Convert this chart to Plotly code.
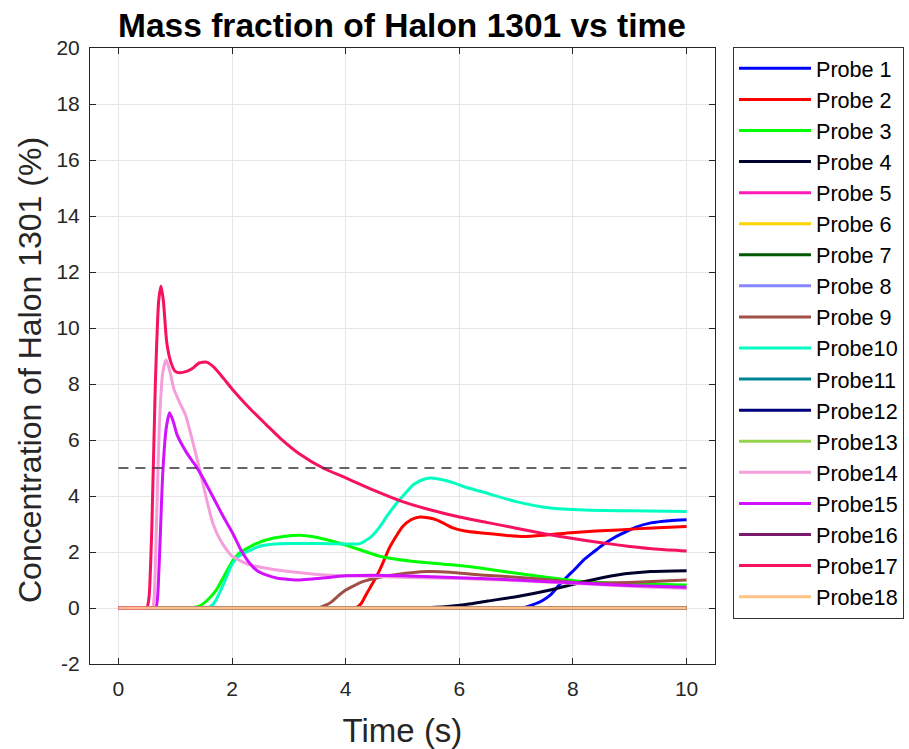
import plotly.graph_objects as go

names = ["Probe 1", "Probe 2", "Probe 3", "Probe 4", "Probe 5", "Probe 6", "Probe 7", "Probe 8", "Probe 9",
         "Probe10", "Probe11", "Probe12", "Probe13", "Probe14", "Probe15", "Probe16", "Probe17", "Probe18"]
colors = ["#0000FF", "#FF0000", "#00FF00", "#00002C", "#FF1AB9", "#FFD300", "#005800", "#8484FF", "#9E4F46",
          "#00FFC1", "#008495", "#00007B", "#95D34F", "#F69EDC", "#D311FF", "#7B1A6A", "#F61261", "#FFC184"]

t1 = [0, 6.9, 7.05, 7.15, 7.3, 7.45, 7.6, 7.75, 7.9, 8.05, 8.19, 8.35, 8.48, 8.7, 8.89, 9.1, 9.37, 9.7, 10]
v1 = [0, 0, 0, 0.02, 0.12, 0.25, 0.46, 0.8, 1.12, 1.42, 1.72, 1.98, 2.19, 2.48, 2.68, 2.88, 3.04, 3.12, 3.15]

t2 = [0, 4.0, 4.12, 4.2, 4.27, 4.37, 4.48, 4.6, 4.78, 4.9, 5.0, 5.15, 5.31, 5.45, 5.6, 5.75, 5.9, 6.1, 6.4, 6.8,
      7.13, 7.5, 7.9, 8.4, 8.8, 9.4, 10]
v2 = [0, 0, 0, 0.03, 0.15, 0.52, 0.9, 1.36, 2.19, 2.6, 2.9, 3.15, 3.25, 3.22, 3.15, 3.0, 2.85, 2.75, 2.68, 2.6,
      2.55, 2.6, 2.68, 2.75, 2.79, 2.86, 2.91]

t3 = [0, 1.1, 1.25, 1.35, 1.45, 1.6, 1.72, 1.85, 2.0, 2.15, 2.3, 2.45, 2.6, 2.9, 3.2, 3.5, 4.0, 4.6, 5.2, 5.8,
      6.4, 7.0, 7.6, 8.2, 9.0, 10]
v3 = [0, 0, 0, 0.03, 0.1, 0.35, 0.64, 1.1, 1.65, 2.0, 2.17, 2.32, 2.43, 2.55, 2.6, 2.52, 2.25, 1.85, 1.66, 1.55,
      1.42, 1.24, 1.08, 0.94, 0.87, 0.82]

t4 = [0, 5.0, 5.3, 5.8, 6.2, 6.5, 7.0, 7.6, 8.19, 8.78, 9.37, 10]
v4 = [0, 0, 0, 0.05, 0.15, 0.25, 0.4, 0.64, 0.94, 1.18, 1.3, 1.33]

t9 = [0, 3.3, 3.45, 3.55, 3.65, 3.75, 3.85, 4.0, 4.15, 4.3, 4.6, 4.9, 5.43, 5.84, 6.37, 7.0, 7.6, 8.19, 8.78,
      9.4, 10]
v9 = [0, 0, 0, 0.02, 0.1, 0.22, 0.4, 0.64, 0.8, 0.94, 1.1, 1.2, 1.3, 1.28, 1.18, 1.1, 1.0, 0.89, 0.9,
      0.95, 1.0]

t10 = [0, 1.45, 1.52, 1.6, 1.66, 1.72, 1.85, 2.01, 2.15, 2.31, 2.45, 2.6, 3.0, 3.5, 4.0, 4.25, 4.45, 4.6, 4.75,
       4.9, 5.05, 5.19, 5.35, 5.5, 5.7, 5.9, 6.1, 6.4, 7.0, 7.6, 8.2, 9.0, 10]
v10 = [0, 0, 0, 0.03, 0.12, 0.29, 0.85, 1.6, 1.9, 2.05, 2.18, 2.25, 2.3, 2.3, 2.29, 2.3, 2.55, 2.9, 3.35,
       3.75, 4.1, 4.4, 4.58, 4.64, 4.58, 4.47, 4.32, 4.15, 3.8, 3.57, 3.5, 3.47, 3.45]

t14 = [0, 0.56, 0.6, 0.63, 0.67, 0.72, 0.78, 0.84, 0.9, 0.98, 1.08, 1.18, 1.25, 1.35, 1.43, 1.55, 1.66, 1.8, 2.0,
       2.3, 2.6, 3.0, 3.5, 4.0, 5.0, 6.0, 7.0, 8.0, 9.0, 10]
v14 = [0, 0, 0, 0.4, 3.0, 6.5, 8.4, 8.87, 8.5, 7.8, 7.33, 6.9, 6.4, 5.6, 4.94, 3.9, 3.04, 2.4, 1.85,
       1.55, 1.42, 1.3, 1.2, 1.15, 1.1, 1.05, 0.98, 0.88, 0.78, 0.7]

t15 = [0, 0.62, 0.66, 0.69, 0.73, 0.78, 0.84, 0.9, 0.96, 1.03, 1.1, 1.2, 1.3, 1.37, 1.5, 1.72, 1.85, 2.01, 2.15,
       2.31, 2.45, 2.6, 2.8, 3.0, 3.2, 3.5, 4.0, 4.5, 5.0, 6.0, 7.0, 8.0, 9.0, 10]
v15 = [0, 0, 0, 0.4, 2.2, 4.8, 6.4, 6.97, 6.7, 6.2, 5.9, 5.55, 5.25, 5.05, 4.6, 3.75, 3.25, 2.68, 2.1,
       1.6, 1.32, 1.18, 1.06, 1.02, 1.0, 1.05, 1.15, 1.17, 1.15, 1.08, 1.0, 0.9, 0.8, 0.74]

t17 = [0, 0.46, 0.5, 0.54, 0.59, 0.65, 0.71, 0.75, 0.79, 0.85, 0.92, 1.0, 1.08, 1.2, 1.3, 1.42, 1.55, 1.68, 1.85,
       2.0, 2.3, 2.6, 2.84, 3.19, 3.6, 4.0, 4.5, 5.0, 5.5, 6.0, 6.5, 7.0, 7.5, 8.0, 8.5, 9.0, 9.5, 10]
v17 = [0, 0, 0, 0.4, 3.0, 8.0, 11.0, 11.5, 11.0, 9.5, 8.8, 8.45, 8.4, 8.45, 8.55, 8.75, 8.78, 8.6, 8.2,
       7.82, 7.15, 6.55, 6.08, 5.5, 5.0, 4.65, 4.2, 3.8, 3.5, 3.25, 3.05, 2.85, 2.65, 2.48, 2.33, 2.2, 2.1, 2.04]

t0 = [0, 10]
v0 = [0, 0]

series_t = [t1, t2, t3, t4, t0, t0, t0, t0, t9, t10, t0, t0, t0, t14, t15, t0, t17, t0]
series_v = [v1, v2, v3, v4, v0, v0, v0, v0, v9, v10, v0, v0, v0, v14, v15, v0, v17, v0]

threshold = 5
x_ticks = [0, 2, 4, 6, 8, 10]
y_ticks = list(range(-2, 21, 2))
y_ticktext = [str(v) for v in y_ticks]

FONT = "Liberation Sans, Arial, Helvetica"

fig = go.Figure()
for name, col, tt, vv in zip(names, colors, series_t, series_v):
    fig.add_trace(go.Scatter(x=tt, y=vv, mode="lines", name=name,
                             line=dict(color=col, width=3, shape="spline", smoothing=0.6)))

fig.add_trace(go.Scatter(x=[0, 10], y=[threshold, threshold], mode="lines", showlegend=False,
                         line=dict(color="#333333", width=1.3, dash="10px,7px")))

axis_common = dict(showline=True, linecolor="#262626", linewidth=1, mirror="ticks",
                   ticks="inside", ticklen=6, tickcolor="#262626",
                   showgrid=True, gridcolor="#E6E6E6", gridwidth=1, zeroline=False,
                   tickfont=dict(family=FONT, size=21, color="#262626"))

fig.update_layout(
    width=909, height=749,
    margin=dict(l=90, r=194, t=48, b=85, autoexpand=False),
    paper_bgcolor="white", plot_bgcolor="white",
    title=dict(text="<b>Mass fraction of Halon 1301 vs time</b>", x=402 / 909, xref="container", xanchor="center",
               y=1 - 25 / 749, yref="container", yanchor="middle",
               font=dict(family=FONT, size=33.5, color="black")),
    xaxis=dict(range=[-0.5, 10.5], tickvals=x_ticks, ticklabelstandoff=6,
               title=dict(text="Time (s)", font=dict(family=FONT, size=33, color="#262626"), standoff=20),
               **axis_common),
    yaxis=dict(range=[-2, 20], tickvals=y_ticks, ticktext=y_ticktext, ticklabelstandoff=5,
               **axis_common),
    annotations=[dict(text="Concentration of Halon 1301 (%)", textangle=-90,
                      xref="paper", yref="paper", x=(30 - 90) / 625, y=(664 - 370) / 616,
                      xanchor="center", yanchor="middle", showarrow=False,
                      font=dict(family=FONT, size=32, color="#262626"))],
    legend=dict(x=(733 - 90) / 625, y=1.002, xanchor="left", yanchor="top", bgcolor="white",
                bordercolor="#333333", borderwidth=1, maxheight=700,
                font=dict(family=FONT, size=21.6, color="black"),
                itemwidth=72, tracegroupgap=0),
    showlegend=True,
)

fig.write_html("out.html")
